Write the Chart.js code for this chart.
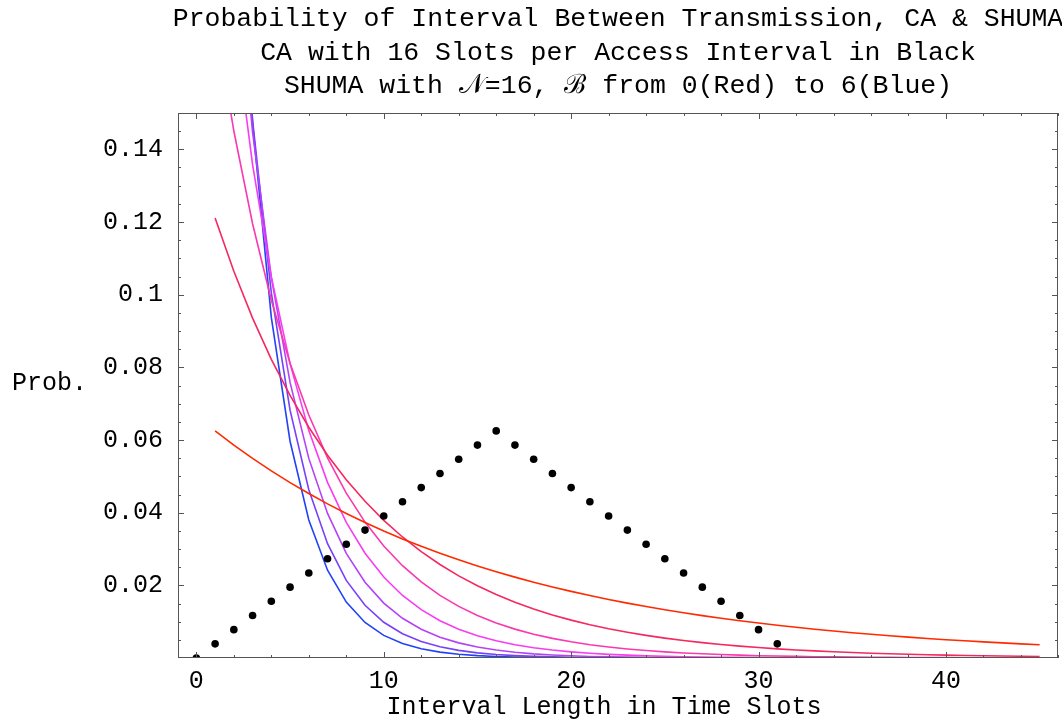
<!DOCTYPE html>
<html>
<head>
<meta charset="utf-8">
<script src="https://cdn.jsdelivr.net/npm/chart.js@4.4.1/dist/chart.umd.min.js"></script>
<style>
  html, body { margin: 0; padding: 0; background: #fff; }
  #wrap { width: 1062px; height: 724px; }
</style>
</head>
<body>
<div id="wrap"><canvas id="chart" width="1062" height="724"></canvas></div>
<script>
'use strict';

// CA, 16 slots per access interval (black dots)
const caSlots = [0,1,2,3,4,5,6,7,8,9,10,11,12,13,14,15,16,17,18,19,20,21,22,23,24,25,26,27,28,29,30,31];
const caProb = [0,.0039,.0078,.0117,.0156,.0195,.0234,.0273,.0313,.0352,.0391,.043,.0469,.0508,.0547,.0586,.0625,
  .0586,.0547,.0508,.0469,.043,.0391,.0352,.0313,.0273,.0234,.0195,.0156,.0117,.0078,.0039];

// SHUMA, N=16, B = 0 .. 6
const shumaSlots = [1,2,3,4,5,6,7,8,9,10,11,12,13,14,15,16,17,18,19,20,21,22,23,24,25,26,27,28,29,30,
  31,32,33,34,35,36,37,38,39,40,41,42,43,44,45];
const shumaB0 = [.0625,.05859,.05493,.0515,.04828,.04526,.04243,.03978,.0373,.03496,
  .03278,.03073,.02881,.02701,.02532,.02374,.02226,.02086,.01956,.01834,
  .01719,.01612,.01511,.01417,.01328,.01245,.01167,.01094,.01026,.00962,
  .00902,.00845,.00792,.00743,.00696,.00653,.00612,.00574,.00538,.00504,
  .00473,.00443,.00416,.0039,.00365];
const shumaB1 = [.12109,.10643,.09354,.08221,.07226,.06351,.05582,.04906,.04312,.0379,
  .03331,.02927,.02573,.02261,.01988,.01747,.01535,.01349,.01186,.01042,
  .00916,.00805,.00708,.00622,.00547,.00481,.00422,.00371,.00326,.00287,
  .00252,.00222,.00195,.00171,.0015,.00132,.00116,.00102,.0009,.00079,
  .00069,.00061,.00054,.00047,.00041];
const shumaB2 = [.17603,.14504,.11951,.09848,.08114,.06686,.05509,.04539,.0374,.03082,
  .0254,.02093,.01724,.01421,.01171,.00965,.00795,.00655,.0054,.00445,
  .00366,.00302,.00249,.00205,.00169,.00139,.00115,.00095,.00078,.00064,
  .00053,.00044,.00036,.0003,.00024,.0002,.00017,.00014,.00011,.00009,
  .00008,.00006,.00005,.00004,.00004];
const shumaB3 = [.22752,.17576,.13577,.10488,.08102,.06258,.04834,.03735,.02885,.02229,
  .01721,.0133,.01027,.00794,.00613,.00474,.00366,.00283,.00218,.00169,
  .0013,.00101,.00078,.0006,.00046,.00036,.00028,.00021,.00017,.00013,
  .0001,.00008,.00006,.00005,.00004,.00003,.00002,.00002,.00001,.00001,
  .00001,.00001,0,0,0];
const shumaB4 = [.2758,.19974,.14465,.10475,.07586,.05494,.03979,.02881,.02087,.01511,
  .01094,.00793,.00574,.00416,.00301,.00218,.00158,.00114,.00083,.0006,
  .00043,.00031,.00023,.00017,.00012,.00009,.00006,.00005,.00003,.00002,
  .00002,.00001,.00001,.00001,0,0,0,0,0,0,
  0,0,0,0,0];
const shumaB5 = [.32107,.21798,.148,.10048,.06822,.04632,.03145,.02135,.0145,.00984,
  .00668,.00454,.00308,.00209,.00142,.00096,.00065,.00044,.0003,.0002,
  .00014,.00009,.00006,.00004,.00003,.00002,.00001,.00001,.00001,0,
  0,0,0,0,0,0,0,0,0,0,
  0,0,0,0,0];
const shumaB6 = [.3635,.23137,.14727,.09374,.05966,.03798,.02417,.01539,.00979,.00623,
  .00397,.00253,.00161,.00102,.00065,.00041,.00026,.00017,.00011,.00007,
  .00004,.00003,.00002,.00001,.00001,0,0,0,0,0,
  0,0,0,0,0,0,0,0,0,0,
  0,0,0,0,0];

// ticks
const xTickValues = [0,10,20,30,40];
const yTickValues = [0.02,0.04,0.06,0.08,0.1,0.12,0.14];

const titleLines = [
  'Probability of Interval Between Transmission, CA & SHUMA',
  'CA with 16 Slots per Access Interval in Black',
  'SHUMA with \u{1D4A9}=16, \u212C from 0(Red) to 6(Blue)'
];
const xLabel = 'Interval Length in Time Slots';
const yLabel = 'Prob.';

// style
const shumaColors = ['#ff2a00','#f5285f','#fa38b0','#f83cf0','#b442f8','#7642f8','#2242f8'];
const monoFont = "'Liberation Mono', 'Courier New', monospace";

function toPoints(xs, ys){
  return xs.map((x, i) => ({x: x, y: ys[i]}));
}

let shumaSeries = [shumaB0, shumaB1, shumaB2, shumaB3, shumaB4, shumaB5, shumaB6];
let datasets = [{
  label: 'CA',
  data: toPoints(caSlots, caProb),
  showLine: false,
  pointRadius: 3.8,
  pointBackgroundColor: '#000',
  pointBorderWidth: 0,
  order: 0
}];
shumaSeries.forEach((s, b) => {
  datasets.push({
    label: 'SHUMA B=' + b,
    data: toPoints(shumaSlots, s),
    showLine: true,
    borderColor: shumaColors[b],
    borderWidth: 1.6,
    pointRadius: 0,
    tension: 0,
    order: 1
  });
});

// frame, inward ticks and the text around the plot
const decorPlugin = {
  id: 'decor',
  afterDraw(chart){
    const ctx = chart.ctx;
    const a = chart.chartArea;
    const xs = chart.scales.x, ys = chart.scales.y;
    ctx.save();
    ctx.strokeStyle = '#555';
    ctx.lineWidth = 1;
    ctx.strokeRect(a.left + 0.5, a.top + 0.5, a.right - a.left - 1, a.bottom - a.top - 1);
    ctx.beginPath();
    for (let v = 0; v <= 46; v += 2){
      let px = Math.round(xs.getPixelForValue(v)) + 0.5;
      let len = v % 10 === 0 ? 6 : 3;
      ctx.moveTo(px, a.bottom); ctx.lineTo(px, a.bottom - len);
      ctx.moveTo(px, a.top); ctx.lineTo(px, a.top + len);
    }
    for (let i = 1; i <= 29; i++){
      let v = i * 0.005;
      let py = Math.round(ys.getPixelForValue(v)) + 0.5;
      let len = i % 4 === 0 ? 6 : 3;
      ctx.moveTo(a.left, py); ctx.lineTo(a.left + len, py);
      ctx.moveTo(a.right, py); ctx.lineTo(a.right - len, py);
    }
    ctx.stroke();

    ctx.fillStyle = '#000';
    ctx.font = '26.5px ' + monoFont;
    ctx.textAlign = 'center';
    ctx.textBaseline = 'middle';
    const cx = (a.left + a.right) / 2;
    titleLines.forEach((t, i) => ctx.fillText(t, cx, 19 + i * 33.5));
    ctx.font = '25px ' + monoFont;
    ctx.fillText(xLabel, 604, 707);
    ctx.textAlign = 'left';
    ctx.fillText(yLabel, 12, 383);
    ctx.restore();
  }
};

const tickFont = {family: monoFont, size: 25};

new Chart(document.getElementById('chart'), {
  type: 'scatter',
  data: {datasets: datasets},
  options: {
    responsive: false,
    animation: false,
    devicePixelRatio: 1,
    layout: {padding: {top: 113, right: 4, left: 0, bottom: 0}},
    plugins: {legend: {display: false}, title: {display: false}, tooltip: {enabled: false}},
    scales: {
      x: {
        type: 'linear',
        min: -0.98,
        max: 45.98,
        afterBuildTicks: s => { s.ticks = xTickValues.map(v => ({value: v})); },
        afterFit: s => { s.height = 66; },
        ticks: {font: tickFont, color: '#000', padding: 8, maxRotation: 0, autoSkip: false},
        grid: {display: false, drawTicks: false},
        border: {display: false}
      },
      y: {
        type: 'linear',
        min: 0,
        max: 0.15,
        afterBuildTicks: s => { s.ticks = yTickValues.map(v => ({value: v})); },
        afterFit: s => { s.width = 178; },
        ticks: {
          font: tickFont, color: '#000', padding: 15,
          callback: v => String(+v.toFixed(2))
        },
        grid: {display: false, drawTicks: false},
        border: {display: false}
      }
    }
  },
  plugins: [decorPlugin]
});
</script>
</body>
</html>
